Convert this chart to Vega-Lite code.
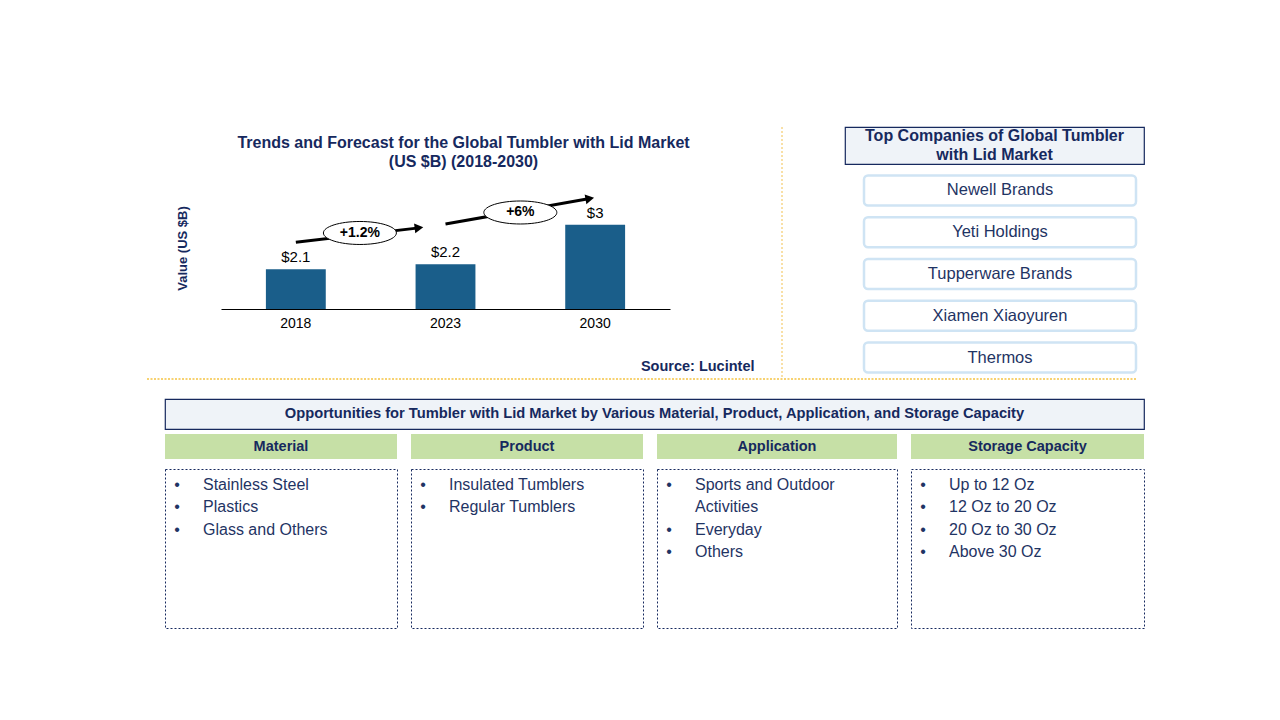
{
  "$schema": "https://vega.github.io/schema/vega-lite/v6.json",
  "background": "white",
  "padding": {"left": 145, "top": 126, "right": 130, "bottom": 90},
  "config": {"font": "Liberation Sans", "view": {"stroke": null}},
  "datasets": {
    "market": [
      {"year": "2018", "value": 2.1, "label": "$2.1"},
      {"year": "2023", "value": 2.2, "label": "$2.2"},
      {"year": "2030", "value": 3.0, "label": "$3"}
    ],
    "growth": [
      {"from": "2018", "to": "2023", "cagr": "+1.2%", "start": 2.645, "end": 2.936, "mid": 2.833},
      {"from": "2023", "to": "2030", "cagr": "+6%", "start": 3.014, "end": 3.527, "mid": 3.246}
    ],
    "companies": [
      {"rank": 1, "company": "Newell  Brands"},
      {"rank": 2, "company": "Yeti  Holdings"},
      {"rank": 3, "company": "Tupperware  Brands"},
      {"rank": 4, "company": "Xiamen  Xiaoyuren"},
      {"rank": 5, "company": "Thermos"}
    ],
    "opportunities": [
      {"segment": "Material", "line": 1, "bullet": true, "text": "Stainless  Steel"},
      {"segment": "Material", "line": 2, "bullet": true, "text": "Plastics"},
      {"segment": "Material", "line": 3, "bullet": true, "text": "Glass  and  Others"},
      {"segment": "Product", "line": 1, "bullet": true, "text": "Insulated  Tumblers"},
      {"segment": "Product", "line": 2, "bullet": true, "text": "Regular  Tumblers"},
      {"segment": "Application", "line": 1, "bullet": true, "text": "Sports  and  Outdoor"},
      {"segment": "Application", "line": 2, "bullet": false, "text": "Activities"},
      {"segment": "Application", "line": 3, "bullet": true, "text": "Everyday"},
      {"segment": "Application", "line": 4, "bullet": true, "text": "Others"},
      {"segment": "Storage Capacity", "line": 1, "bullet": true, "text": "Up  to  12  Oz"},
      {"segment": "Storage Capacity", "line": 2, "bullet": true, "text": "12  Oz  to  20  Oz"},
      {"segment": "Storage Capacity", "line": 3, "bullet": true, "text": "20  Oz  to  30  Oz"},
      {"segment": "Storage Capacity", "line": 4, "bullet": true, "text": "Above  30  Oz"}
    ]
  },
  "spacing": 18,
  "vconcat": [
    {
      "spacing": -2,
      "vconcat": [
        {
          "spacing": 61,
          "hconcat": [
            {
              "spacing": 0,
              "hconcat": [
                {"width": 30, "height": 1, "data": {"values": []}, "mark": "point"},
                {
                  "width": 449,
                  "height": 182,
                  "data": {"name": "market"},
                  "title": {
                    "text": ["Trends and Forecast for the Global  Tumbler with Lid Market", "(US $B) (2018-2030)"],
                    "fontSize": 16, "fontWeight": "bold", "color": "#16295e",
                    "anchor": "middle", "frame": "group", "offset": -43, "dx": 18, "lineHeight": 19
                  },
                  "layer": [
                    {
                      "mark": {"type": "bar", "color": "#1a5e8a", "clip": true},
                      "encoding": {
                        "x": {
                          "field": "year", "type": "ordinal",
                          "scale": {"paddingInner": 0.6, "paddingOuter": 0.3},
                          "axis": {
                            "title": "Source: Lucintel", "labelAngle": 0, "labelFontSize": 14, "labelColor": "black",
                            "labelPadding": 7, "ticks": false, "domainColor": "black", "domainWidth": 1,
                            "titleFontSize": 14.5, "titleFontWeight": "bold", "titleColor": "#16295e",
                            "titleX": 533, "titleY": 57, "titleAlign": "right", "titleBaseline": "middle"
                          }
                        },
                        "y": {
                          "field": "value", "type": "quantitative",
                          "scale": {"domain": [1.3, 4.97], "zero": false, "nice": false},
                          "axis": {
                            "title": "Value (US $B)", "labels": false, "ticks": false, "domain": false, "grid": false,
                            "titleFontSize": 13, "titleFontWeight": "bold", "titleColor": "#16295e",
                            "titleX": -32, "titleY": 121, "titleAngle": -90, "titleAlign": "center", "titleBaseline": "bottom"
                          }
                        }
                      }
                    },
                    {
                      "mark": {"type": "text", "baseline": "bottom", "dy": -4, "fontSize": 15, "color": "black"},
                      "encoding": {
                        "x": {"field": "year", "type": "ordinal"},
                        "y": {"field": "value", "type": "quantitative", "scale": {"domain": [1.3, 4.97], "zero": false, "nice": false}},
                        "text": {"field": "label"}
                      }
                    },
                    {
                      "data": {"name": "growth"},
                      "transform": [{"filter": "datum.from === '2018'"}],
                      "layer": [
                        {
                          "mark": {"type": "rule", "color": "black", "strokeWidth": 3},
                          "encoding": {
                            "x": {"field": "from", "type": "ordinal", "bandPosition": 0.5},
                            "x2": {"field": "to", "bandPosition": 0.057},
                            "y": {"field": "start", "type": "quantitative", "scale": {"domain": [1.3, 4.97], "zero": false, "nice": false}},
                            "y2": {"field": "end"}
                          }
                        },
                        {
                          "mark": {"type": "point", "shape": "triangle-right", "filled": true, "color": "black", "opacity": 1, "size": 100, "angle": -7},
                          "encoding": {
                            "x": {"field": "to", "type": "ordinal", "bandPosition": 0.057},
                            "y": {"field": "end", "type": "quantitative", "scale": {"domain": [1.3, 4.97], "zero": false, "nice": false}}
                          }
                        },
                        {
                          "mark": {"type": "point", "shape": "M-1,0C-1,-0.174,-0.552,-0.315,0,-0.315C0.552,-0.315,1,-0.174,1,0C1,0.174,0.552,0.315,0,0.315C-0.552,0.315,-1,0.174,-1,0Z", "filled": true, "fill": "white", "stroke": "black", "strokeWidth": 1, "opacity": 1, "size": 5329},
                          "encoding": {
                            "x": {"field": "from", "type": "ordinal", "bandPosition": 1.57},
                            "y": {"field": "mid", "type": "quantitative", "scale": {"domain": [1.3, 4.97], "zero": false, "nice": false}}
                          }
                        },
                        {
                          "mark": {"type": "text", "fontSize": 14, "fontWeight": "bold", "color": "black"},
                          "encoding": {
                            "x": {"field": "from", "type": "ordinal", "bandPosition": 1.57},
                            "y": {"field": "mid", "type": "quantitative", "scale": {"domain": [1.3, 4.97], "zero": false, "nice": false}},
                            "text": {"field": "cagr"}
                          }
                        }
                      ]
                    },
                    {
                      "data": {"name": "growth"},
                      "transform": [{"filter": "datum.from === '2023'"}],
                      "layer": [
                        {
                          "mark": {"type": "rule", "color": "black", "strokeWidth": 3},
                          "encoding": {
                            "x": {"field": "from", "type": "ordinal", "bandPosition": 0.5},
                            "x2": {"field": "to", "bandPosition": 0.41},
                            "y": {"field": "start", "type": "quantitative", "scale": {"domain": [1.3, 4.97], "zero": false, "nice": false}},
                            "y2": {"field": "end"}
                          }
                        },
                        {
                          "mark": {"type": "point", "shape": "triangle-right", "filled": true, "color": "black", "opacity": 1, "size": 100, "angle": -10},
                          "encoding": {
                            "x": {"field": "to", "type": "ordinal", "bandPosition": 0.41},
                            "y": {"field": "end", "type": "quantitative", "scale": {"domain": [1.3, 4.97], "zero": false, "nice": false}}
                          }
                        },
                        {
                          "mark": {"type": "point", "shape": "M-1,0C-1,-0.174,-0.552,-0.315,0,-0.315C0.552,-0.315,1,-0.174,1,0C1,0.174,0.552,0.315,0,0.315C-0.552,0.315,-1,0.174,-1,0Z", "filled": true, "fill": "white", "stroke": "black", "strokeWidth": 1, "opacity": 1, "size": 5329},
                          "encoding": {
                            "x": {"field": "from", "type": "ordinal", "bandPosition": 1.75},
                            "y": {"field": "mid", "type": "quantitative", "scale": {"domain": [1.3, 4.97], "zero": false, "nice": false}}
                          }
                        },
                        {
                          "mark": {"type": "text", "fontSize": 14, "fontWeight": "bold", "color": "black"},
                          "encoding": {
                            "x": {"field": "from", "type": "ordinal", "bandPosition": 1.75},
                            "y": {"field": "mid", "type": "quantitative", "scale": {"domain": [1.3, 4.97], "zero": false, "nice": false}},
                            "text": {"field": "cagr"}
                          }
                        }
                      ]
                    }
                  ]
                },
                {
                  "width": 28, "height": 251,
                  "data": {"values": [{}]},
                  "mark": {"type": "rule", "color": "#f2c14e", "strokeWidth": 1, "strokeDash": [2, 2]},
                  "encoding": {"x": {"datum": 1, "type": "quantitative", "scale": {"domain": [0, 1]}, "axis": null}}
                }
              ]
            },
            {
              "spacing": 5,
              "vconcat": [
                {
                  "width": 299, "height": 37,
                  "view": {"fill": "#eff3f8", "stroke": "#16295e", "strokeWidth": 1.2},
                  "data": {"values": [{"heading": ["Top Companies of Global  Tumbler", "with Lid Market"]}]},
                  "mark": {"type": "text", "fontSize": 16, "fontWeight": "bold", "color": "#16295e", "lineHeight": 19, "baseline": "middle", "dy": -9.5},
                  "encoding": {"text": {"field": "heading"}}
                },
                {
                  "spacing": 0,
                  "hconcat": [
                    {"width": 17, "height": 1, "data": {"values": []}, "mark": "point"},
                    {
                      "width": 272, "height": 208,
                      "data": {"name": "companies"},
                      "encoding": {
                        "y": {"field": "company", "type": "nominal", "sort": null, "axis": null, "scale": {"paddingInner": 0.28, "paddingOuter": 0.13}}
                      },
                      "layer": [
                        {"mark": {"type": "rect", "fill": "white", "stroke": "#cfe4f4", "strokeWidth": 2.5, "cornerRadius": 4}},
                        {"mark": {"type": "text", "fontSize": 16.5, "color": "#1f3464"}, "encoding": {"text": {"field": "company"}}}
                      ]
                    }
                  ]
                }
              ]
            }
          ]
        },
        {
          "width": 990, "height": 1,
          "data": {"values": [{}]},
          "mark": {"type": "rule", "color": "#f5c343", "strokeWidth": 1.5, "strokeDash": [2, 1.5]},
          "encoding": {"y": {"datum": 1, "type": "quantitative", "scale": {"domain": [0, 1]}, "axis": null}}
        }
      ]
    },
    {
      "spacing": 0,
      "hconcat": [
        {"width": 18, "height": 1, "data": {"values": []}, "mark": "point"},
        {
          "spacing": 4,
          "vconcat": [
            {
              "width": 979, "height": 30,
              "view": {"fill": "#eff3f8", "stroke": "#16295e", "strokeWidth": 1.2},
              "data": {"values": [{"heading": "Opportunities for Tumbler with Lid  Market by Various Material, Product,  Application,  and  Storage Capacity"}]},
              "mark": {"type": "text", "fontSize": 14.7, "fontWeight": "bold", "color": "#16295e"},
              "encoding": {"text": {"field": "heading"}}
            },
            {
              "spacing": 12,
              "hconcat": [
                {
                  "spacing": 9,
                  "vconcat": [
                    {
                      "width": 232, "height": 25,
                      "view": {"fill": "#c6e0a6", "stroke": null},
                      "data": {"values": [{"segment": "Material"}]},
                      "mark": {"type": "text", "fontSize": 14.5, "fontWeight": "bold", "color": "#16295e"},
                      "encoding": {"text": {"field": "segment"}}
                    },
                    {
                      "width": 232, "height": 159,
                      "view": {"stroke": "#16295e", "strokeDash": [2, 2], "strokeWidth": 1},
                      "data": {"name": "opportunities"},
                      "transform": [{"filter": "datum.segment === 'Material'"}],
                      "encoding": {"y": {"field": "line", "type": "quantitative", "scale": {"domain": [0.29, 7.36], "reverse": true, "nice": false, "zero": false}, "axis": null}},
                      "layer": [
                        {
                          "transform": [{"filter": "datum.bullet"}],
                          "mark": {"type": "text", "text": "•", "fontSize": 16, "color": "#1f3464"},
                          "encoding": {"x": {"datum": "bullet", "type": "nominal", "scale": {"type": "point", "domain": ["bullet", "item"], "range": [12, 38], "padding": 0}, "axis": null}}
                        },
                        {
                          "mark": {"type": "text", "align": "left", "fontSize": 16, "color": "#1f3464"},
                          "encoding": {
                            "x": {"datum": "item", "type": "nominal", "scale": {"type": "point", "domain": ["bullet", "item"], "range": [12, 38], "padding": 0}, "axis": null},
                            "text": {"field": "text"}
                          }
                        }
                      ]
                    }
                  ]
                },
                {
                  "spacing": 9,
                  "vconcat": [
                    {
                      "width": 232, "height": 25,
                      "view": {"fill": "#c6e0a6", "stroke": null},
                      "data": {"values": [{"segment": "Product"}]},
                      "mark": {"type": "text", "fontSize": 14.5, "fontWeight": "bold", "color": "#16295e"},
                      "encoding": {"text": {"field": "segment"}}
                    },
                    {
                      "width": 232, "height": 159,
                      "view": {"stroke": "#16295e", "strokeDash": [2, 2], "strokeWidth": 1},
                      "data": {"name": "opportunities"},
                      "transform": [{"filter": "datum.segment === 'Product'"}],
                      "encoding": {"y": {"field": "line", "type": "quantitative", "scale": {"domain": [0.29, 7.36], "reverse": true, "nice": false, "zero": false}, "axis": null}},
                      "layer": [
                        {
                          "transform": [{"filter": "datum.bullet"}],
                          "mark": {"type": "text", "text": "•", "fontSize": 16, "color": "#1f3464"},
                          "encoding": {"x": {"datum": "bullet", "type": "nominal", "scale": {"type": "point", "domain": ["bullet", "item"], "range": [12, 38], "padding": 0}, "axis": null}}
                        },
                        {
                          "mark": {"type": "text", "align": "left", "fontSize": 16, "color": "#1f3464"},
                          "encoding": {
                            "x": {"datum": "item", "type": "nominal", "scale": {"type": "point", "domain": ["bullet", "item"], "range": [12, 38], "padding": 0}, "axis": null},
                            "text": {"field": "text"}
                          }
                        }
                      ]
                    }
                  ]
                },
                {
                  "spacing": 9,
                  "vconcat": [
                    {
                      "width": 240, "height": 25,
                      "view": {"fill": "#c6e0a6", "stroke": null},
                      "data": {"values": [{"segment": "Application"}]},
                      "mark": {"type": "text", "fontSize": 14.5, "fontWeight": "bold", "color": "#16295e"},
                      "encoding": {"text": {"field": "segment"}}
                    },
                    {
                      "width": 240, "height": 159,
                      "view": {"stroke": "#16295e", "strokeDash": [2, 2], "strokeWidth": 1},
                      "data": {"name": "opportunities"},
                      "transform": [{"filter": "datum.segment === 'Application'"}],
                      "encoding": {"y": {"field": "line", "type": "quantitative", "scale": {"domain": [0.29, 7.36], "reverse": true, "nice": false, "zero": false}, "axis": null}},
                      "layer": [
                        {
                          "transform": [{"filter": "datum.bullet"}],
                          "mark": {"type": "text", "text": "•", "fontSize": 16, "color": "#1f3464"},
                          "encoding": {"x": {"datum": "bullet", "type": "nominal", "scale": {"type": "point", "domain": ["bullet", "item"], "range": [12, 38], "padding": 0}, "axis": null}}
                        },
                        {
                          "mark": {"type": "text", "align": "left", "fontSize": 16, "color": "#1f3464"},
                          "encoding": {
                            "x": {"datum": "item", "type": "nominal", "scale": {"type": "point", "domain": ["bullet", "item"], "range": [12, 38], "padding": 0}, "axis": null},
                            "text": {"field": "text"}
                          }
                        }
                      ]
                    }
                  ]
                },
                {
                  "spacing": 9,
                  "vconcat": [
                    {
                      "width": 233, "height": 25,
                      "view": {"fill": "#c6e0a6", "stroke": null},
                      "data": {"values": [{"segment": "Storage Capacity"}]},
                      "mark": {"type": "text", "fontSize": 14.5, "fontWeight": "bold", "color": "#16295e"},
                      "encoding": {"text": {"field": "segment"}}
                    },
                    {
                      "width": 233, "height": 159,
                      "view": {"stroke": "#16295e", "strokeDash": [2, 2], "strokeWidth": 1},
                      "data": {"name": "opportunities"},
                      "transform": [{"filter": "datum.segment === 'Storage Capacity'"}],
                      "encoding": {"y": {"field": "line", "type": "quantitative", "scale": {"domain": [0.29, 7.36], "reverse": true, "nice": false, "zero": false}, "axis": null}},
                      "layer": [
                        {
                          "transform": [{"filter": "datum.bullet"}],
                          "mark": {"type": "text", "text": "•", "fontSize": 16, "color": "#1f3464"},
                          "encoding": {"x": {"datum": "bullet", "type": "nominal", "scale": {"type": "point", "domain": ["bullet", "item"], "range": [12, 38], "padding": 0}, "axis": null}}
                        },
                        {
                          "mark": {"type": "text", "align": "left", "fontSize": 16, "color": "#1f3464"},
                          "encoding": {
                            "x": {"datum": "item", "type": "nominal", "scale": {"type": "point", "domain": ["bullet", "item"], "range": [12, 38], "padding": 0}, "axis": null},
                            "text": {"field": "text"}
                          }
                        }
                      ]
                    }
                  ]
                }
              ]
            }
          ]
        }
      ]
    }
  ]
}
